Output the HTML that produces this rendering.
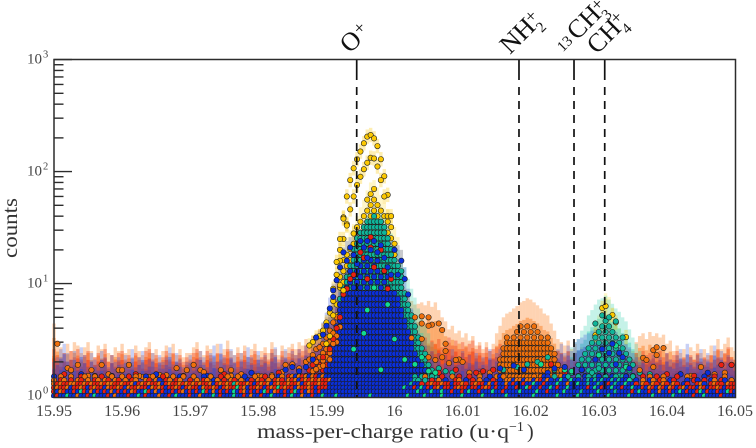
<!DOCTYPE html>
<html lang="en">
<head>
<meta charset="utf-8">
<title>Mass spectrum counts chart</title>
<style>
html,body{margin:0;padding:0;background:#fff;width:756px;height:448px;overflow:hidden}
svg{display:block}
text{font-family:"Liberation Serif",serif}
</style>
</head>
<body>
<svg id="chart" width="756" height="448" viewBox="0 0 756 448" xmlns="http://www.w3.org/2000/svg">
<defs><clipPath id="plot-clip"><rect x="50" y="59" width="686" height="339"/></clipPath></defs>
<rect x="0" y="0" width="756" height="448" fill="#fff"/>
<g id="bars" clip-path="url(#plot-clip)"></g>
<g id="ticks"></g>
<g id="dots" clip-path="url(#plot-clip)"></g>
<g id="refs"></g>
<rect x="54" y="59.5" width="681.5" height="338" fill="none" stroke="#2c2c2c" stroke-width="1.5"/>
<g id="xlabels" font-size="16" fill="#444" text-anchor="middle"></g>
<g id="ylabels" fill="#444"></g>
<text x="257" y="438" font-size="20" fill="#333" textLength="252" lengthAdjust="spacingAndGlyphs">mass-per-charge ratio (u·q</text>
<text x="509" y="431" font-size="14" fill="#333">−1</text>
<text x="527" y="438" font-size="20" fill="#333">)</text>
<text transform="translate(17,258) rotate(-90)" font-size="21" fill="#333" textLength="60" lengthAdjust="spacingAndGlyphs">counts</text>
<g transform="translate(350,54) rotate(-45)" fill="#111">
<text font-size="26">O</text><text x="20" y="-6" font-size="18">+</text>
</g>
<g transform="translate(510,55) rotate(-45)" fill="#111">
<text font-size="26" textLength="38" lengthAdjust="spacingAndGlyphs">NH</text><text x="38" y="7" font-size="15">2</text><text x="37" y="-7" font-size="18">+</text>
</g>
<g transform="translate(577,41) rotate(-45)" fill="#111">
<text x="-18" y="-2" font-size="15">13</text><text font-size="26" textLength="36" lengthAdjust="spacingAndGlyphs">CH</text><text x="36" y="7" font-size="15">3</text><text x="35" y="-6" font-size="18">+</text>
</g>
<g transform="translate(597,55) rotate(-45)" fill="#111">
<text font-size="26" textLength="36" lengthAdjust="spacingAndGlyphs">CH</text><text x="36" y="7" font-size="15">4</text><text x="35" y="-7" font-size="18">+</text>
</g>
</svg>
<script>
// ---- axis data ----
const xTicks = [15.95,15.96,15.97,15.98,15.99,16,16.01,16.02,16.03,16.04,16.05];
const xTickLabels = ["15.95","15.96","15.97","15.98","15.99","16","16.01","16.02","16.03","16.04","16.05"];
const yDecades = [1,10,100,1000];
const yDecadeExponents = ["0","1","2","3"];
const yMinorTicks = [2,3,4,5,6,7,8,9,20,30,40,50,60,70,80,90,200,300,400,500,600,700,800,900];
const speciesNames = ["O+","NH2+","13CH3+","CH4+"];
const speciesMz = [15.99445,16.01828,16.02636,16.03087];
const binStart = 15.95;
const binStep = 0.0005;

// ---- translucent error bar tops per mass bin (bin 0..200) ----
const orangeBars = [4.4,3.1,2.7,2.4,2.9,2.5,3.0,2.8,2.4,2.7,3.0,2.5,2.2,2.8,2.6,2.9,2.4,2.3,2.7,2.5,
2.9,2.4,2.6,2.2,2.8,2.5,2.3,2.7,3.0,2.4,2.6,2.2,2.5,2.8,2.4,2.9,2.3,2.6,2.2,2.4,
2.4,2.7,3.0,2.5,2.3,2.8,2.6,2.2,2.9,2.4,2.6,3.1,2.5,2.3,2.7,2.4,2.8,2.2,2.6,2.9,
2.3,2.5,2.7,2.4,3.0,2.6,2.3,2.8,2.5,2.7,2.9,2.6,3.0,2.8,3.2,3.0,3.4,3.6,3.9,4.4,
5,6,8,10,12,14,16,18,20,20,20,20,20,20,20,20,20,20,20,18,15,12,10,9,7.5,7,6.5,6.6,6.8,6.4,
7.0,6.2,6.8,5.8,5.0,4.6,3.9,4.2,3.6,3.8,3.3,3.6,3.1,3.4,2.8,3.0,2.6,3.0,2.5,2.9,
3.6,4.2,5.0,5.4,5.6,6.0,6.3,6.8,7.0,7.4,7.2,6.8,6.4,6.0,5.4,5.2,4.4,3.8,3.2,3.0,
2.8,3.1,2.6,2.9,2.5,2.7,2.4,2.8,2.6,2.9,2.5,2.7,2.4,2.8,2.5,2.6,2.3,2.7,2.9,2.6,
2.5,3.0,3.4,3.6,3.2,3.7,3.4,3.6,3.3,3.5,2.9,3.1,2.5,2.8,2.4,2.6,2.3,2.7,2.5,2.9,
2.4,2.6,2.3,2.8,2.5,3.2,2.6,2.9,3.3,2.7,2.5];
const redBars = [2.6,2.3,2.1,2.4,2.0,2.5,2.2,2.6,2.1,2.3,2.5,2.0,2.2,2.4,2.1,2.6,2.0,2.3,2.1,2.4,
2.5,2.1,2.3,2.0,2.4,2.2,2.0,2.5,2.6,2.1,2.3,2.0,2.2,2.5,2.1,2.4,2.0,2.3,2.0,2.2,
2.1,2.4,2.6,2.2,2.0,2.5,2.3,2.0,2.4,2.1,2.3,2.6,2.2,2.0,2.4,2.1,2.5,2.0,2.3,2.5,
2.1,2.2,2.4,2.1,2.6,2.3,2.1,2.5,2.2,2.4,2.6,2.3,2.6,2.5,2.8,2.7,3.0,3.2,3.4,3.8,
4,4.5,5,6,7,8,8,8,8,8,8,8,8,8,8,8,8,8,8,7,6,5,4.5,4,3.5,3.2,3,3.2,3.0,3.3,
2.8,3.1,2.9,3.2,2.7,3.0,3.3,2.8,3.1,2.6,3.0,2.7,2.9,3.1,2.6,2.8,2.4,2.7,2.5,2.6,
2.7,2.9,2.8,2.6,3.0,2.7,2.9,2.8,3.0,2.7,2.9,2.6,2.8,2.5,2.7,2.4,2.6,2.3,2.5,2.4,
2.2,2.5,2.1,2.4,2.0,2.2,2.1,2.3,2.4,2.2,2.3,2.1,2.4,2.2,2.3,2.2,2.1,2.3,2.4,2.2,
2.1,2.4,2.2,2.5,2.3,2.4,2.6,2.3,2.5,2.2,2.4,2.1,2.3,2.5,2.1,2.2,2.0,2.3,2.1,2.4,
2.0,2.2,2.1,2.3,2.1,2.6,2.2,2.4,2.7,2.2,2.1];
const blueBars = [2.0,2.2,2.6,2.9,2.4,2.1,2.5,1.9,2.7,2.3,1.8,2.4,2.1,1.9,2.5,2.2,1.8,2.3,2.0,2.2,
1.9,2.3,2.0,2.6,1.8,2.2,2.5,1.9,2.1,2.4,1.8,2.3,2.0,2.2,2.7,1.9,2.4,2.1,1.8,2.0,
2.3,1.9,2.1,2.5,2.2,1.8,2.4,2.8,2.0,2.9,2.2,1.9,2.6,2.3,1.8,2.4,2.0,2.7,2.2,1.9,
2.5,2.1,2.3,1.9,2.4,2.7,2.0,2.2,2.6,2.1,2.5,2.3,2.6,2.2,2.8,2.4,3.0,3.4,3.8,4.5,
5.5,7.5,10,12,16,21,24,26,28,30,30,30,30,30,30,30,30,28,26,24,24,22,20,14,9,6,4.5,3.6,3,2.8,
2.2,2.5,2.0,2.4,1.9,2.3,2.1,2.6,1.9,2.2,2.5,2.0,2.3,1.9,2.4,2.0,2.2,1.9,2.6,2.1,
2.4,2.6,2.8,3.0,3.1,3.2,2.9,3.1,3.2,2.9,3.0,2.7,2.9,2.6,2.5,2.3,2.7,2.4,2.6,2.9,
2.4,2.8,2.5,3.0,3.2,3.3,3.5,3.6,3.8,3.9,4.0,3.8,4.1,3.9,3.6,3.7,3.4,3.2,2.9,2.7,
2.4,2.2,2.0,2.3,1.9,2.1,2.3,2.0,2.2,1.9,2.4,2.1,2.0,2.3,2.6,2.1,2.9,2.2,2.0,2.3,
2.6,2.1,2.4,2.0,2.8,2.2,2.5,2.0,2.3,2.1,1.9];
const yellowBarBins = [76,78,79,80,81,82,83,84,85,86,87,88,89,90,91,92,93,94,95,96,97,98,99,100,101,102,158,159,160,161,162,163,164,165,166];
const yellowBarTops = [2.8,3.2,3.6,4.2,5,7,10,18,22,26,30,34,40,48,56,68,80,84,72,62,52,46,38,32,26,20,3.5,4.5,5.2,6.5,8.2,7.6,6,5,4];
const tealBarBins = [84,85,86,87,88,89,90,91,92,93,94,95,96,97,98,99,100,101,102,103,104,105,106,107,108,109,110,111,112,152,153,154,155,156,157,158,159,160,161,162,163,164,165,166,167,168,169,170,171,172];
const tealBarTops = [10,12,15,18,22,26,30,35,40,44,46,45,42,38,33,28,24,20,17,14,11,9,7.5,6,5,4.2,3.6,3,2.6,2.7,3,3.2,3.8,4.2,5.2,5.8,6.5,7.2,7.4,7.8,7.2,6.6,6,5.6,5,4.6,3.9,3.3,2.9,2.5];

// ---- baseline dot rows: series code per bin (0 blue, 1 red, 2 orange, 3 green, 4 teal, 9 none) ----
const baselineLevels = [0.995,1.085,1.175,1.27,1.37,1.48];
const baselineRow0 = [0,1,0,0,3,0,0,2,0,0,1,0,3,0,0,0,1,0,2,0,
0,0,1,0,0,3,0,1,0,0,0,2,0,0,1,0,3,0,0,0,
1,0,0,2,0,0,0,3,0,1,0,0,0,3,0,0,1,0,2,0,
0,1,0,0,3,0,0,0,1,0,3,0,0,2,0,0,1,0,0,3,
0,0,0,3,0,0,0,0,0,0,0,0,0,3,0,0,0,0,0,0,
0,0,0,0,3,0,0,0,0,3,0,0,0,0,3,0,0,0,0,0,
3,0,0,0,0,0,3,0,0,0,0,0,0,3,0,0,0,0,0,0,
0,3,0,0,0,0,0,0,3,0,0,0,0,0,3,0,0,0,4,0,
0,0,0,3,0,0,0,0,0,3,0,0,0,0,0,0,3,0,0,0,
0,0,3,0,0,0,0,0,1,0,0,3,0,0,0,0,1,0,0,0,0];
const baselineRow1 = [1,0,2,1,0,0,1,0,3,1,0,2,0,1,0,1,0,2,0,1,
0,1,0,2,1,0,0,3,1,0,2,0,1,0,0,1,0,1,2,0,
1,0,1,0,3,1,0,2,0,1,0,1,0,3,0,1,2,0,1,0,
1,0,3,1,0,2,1,0,1,0,1,3,0,1,0,2,1,0,1,0,
0,0,0,0,0,0,0,0,0,0,0,0,0,0,0,0,0,0,0,0,
0,0,0,0,0,0,0,3,0,0,0,3,0,0,3,0,0,1,0,0,
1,0,3,0,0,1,0,0,0,3,0,0,1,0,0,0,0,3,0,0,
0,0,3,0,0,1,0,0,0,0,3,0,0,0,0,4,0,0,0,0,
3,0,0,0,0,4,0,0,0,0,1,0,3,0,0,1,0,0,2,0,
0,1,0,0,3,0,1,0,0,1,3,0,1,0,0,1,0,0,3,1,0];
const baselineRow2 = [1,2,1,1,2,0,1,1,2,1,0,1,2,1,1,0,2,1,1,2,
1,0,2,1,1,2,1,1,0,2,1,2,1,0,1,1,2,1,0,1,
2,1,1,0,2,1,1,2,1,0,1,2,1,1,3,1,2,0,1,1,
2,1,0,1,2,1,3,1,2,1,1,0,2,1,1,2,1,0,1,1,
1,0,0,0,0,0,0,0,0,0,0,0,0,0,0,0,0,0,0,0,
0,0,0,3,0,0,1,0,3,0,1,0,1,2,0,1,1,0,1,2,
1,1,0,1,1,0,1,2,1,0,1,0,0,1,0,0,1,0,0,3,
1,0,0,1,0,0,3,0,1,0,0,3,0,0,0,0,0,1,0,3,
0,1,0,0,3,0,0,1,0,0,3,0,0,1,0,2,1,0,2,1,
0,2,1,0,1,2,0,1,1,0,2,1,0,1,1,2,1,0,1,1,1];
const baselineRow3 = [2,1,2,1,1,2,2,1,1,2,1,2,1,1,2,1,2,2,1,1,
2,1,1,2,0,1,2,1,2,1,1,2,0,1,2,1,1,2,1,2,
1,2,1,2,1,1,2,0,1,2,1,2,1,4,2,1,1,2,1,0,
1,2,1,2,0,1,2,1,1,2,1,1,2,0,1,2,1,1,2,1,
1,0,0,0,0,0,0,0,0,0,0,0,0,0,0,0,0,0,0,0,
0,0,0,0,0,4,0,0,1,9,1,2,1,1,2,1,1,0,1,1,
2,1,9,1,2,1,1,0,2,0,1,0,0,2,0,1,0,0,1,0,
0,3,0,0,1,0,0,0,3,0,0,2,0,0,3,0,0,4,0,0,
4,0,0,1,0,4,0,0,3,0,0,1,9,2,1,9,2,1,9,2,
1,9,2,1,9,0,1,9,9,1,2,0,9,1,2,1,1,9,2,1,1];
const baselineRow4 = [2,9,1,2,9,1,9,2,1,9,2,9,1,2,9,2,1,9,2,1,
9,2,9,1,2,9,9,2,1,9,2,0,9,1,2,9,1,2,9,9,
1,9,2,9,1,2,9,0,2,9,1,9,2,1,9,2,9,0,1,9,
2,1,9,2,9,1,2,1,9,2,1,2,0,1,2,1,2,1,2,1,
1,2,0,0,0,0,0,0,0,0,0,0,0,0,0,0,0,0,0,0,
0,0,0,0,0,0,4,4,9,4,9,1,9,2,9,0,9,9,1,2,
9,0,9,1,9,2,9,0,9,1,9,0,9,2,2,0,2,2,0,2,
2,0,2,1,0,2,0,9,0,3,0,9,3,0,0,9,0,4,0,4,
0,4,0,0,4,0,4,0,0,3,9,0,9,2,9,0,2,9,1,2,
9,0,1,9,9,9,0,9,1,0,9,1,9,0,2,9,1,0,9,2,9];
const baselineRow5 = [0,9,2,9,9,2,9,9,1,2,9,9,2,9,1,9,9,2,9,9,
2,9,1,9,2,9,9,0,9,2,9,9,1,9,9,2,9,0,2,9,
9,2,9,9,0,9,2,9,9,1,9,2,9,9,2,9,0,9,9,2,
9,2,1,9,2,9,0,2,9,1,2,0,2,1,2,0,2,1,0,2,
0,0,0,0,0,0,0,0,0,0,0,0,0,0,0,0,0,0,0,0,
0,0,0,0,0,0,4,9,4,2,9,4,9,9,1,9,9,2,9,1,
9,9,1,9,9,2,9,9,0,9,2,0,2,9,2,2,2,2,2,2,
2,2,9,2,0,0,9,4,9,9,0,4,9,9,4,9,0,4,9,4,
0,9,4,9,0,4,9,4,0,9,4,9,9,1,9,2,9,1,9,2,
9,9,9,1,9,9,2,9,9,9,9,0,9,9,1,9,9,2,9,9,9];

// ---- stacked peak columns: count at top of each column ----
const stackLevels = [1.5,1.68,1.88,2.1,2.36,2.64,2.96,3.3,3.7,4.15,4.65,5.2,5.8,6.5,7.3,8.2,9.2,10.3,11.5,12.9,14.4,16.2,18.1,20.3,22.7,25.4,28.5,31.9,35.7,40,44.8,50.2,56.2,63,70];
const yellowColumnBins = [78,79,80,81,82,83,84,85,86,87,88,89,90,91,92,93,94,95,96,97,98,99,100];
const yellowColumnTops = [1.9,2.2,2.6,3,4,7,14,17,20,24,28,34,40,48,58,68,70,60,52,44,38,32,26];
const tealColumnBins = [84,85,86,87,88,89,90,91,92,93,94,95,96,97,98,99,100,101,102,103,104,105,106,107,108,109,110,111,112];
const tealColumnTops = [8,10,12,15,22,26,30,33,36,38,40,39,36,32,27,22,18,15,13,9,7,5.5,4.5,3.6,2.9,2.4,2,1.8,1.6];
const redColumnBins = [72,73,74,75,76,77,78,79,80,81,82];
const redColumnTops = [1.55,1.6,1.7,1.8,1.9,2.1,2.3,2.6,2.9,3.2,3.6];
const blueColumnBins = [80,81,82,83,84,85,86,87,88,89,90,91,92,93,94,95,96,97,98,99,100,101,102,103,104,105,106,107,108,109];
const blueColumnTops = [1.8,2.1,2.8,4.5,6.5,8,11,13,14,15,16,18,18,18,18,16,14,13,12,10,9,7.5,6,4.8,3.8,3.2,2.6,2.2,1.9,1.7];
const nh2ColumnBins = [131,132,133,134,135,136,137,138,139,140,141,142,143,144,145,146,147,148,149];
const nh2ColumnTops = [2.3,2.8,3.4,3.5,3.6,3.8,4.2,4.5,4.9,4.6,4.3,4.0,3.7,3.5,3.4,2.9,2.4,2.0,1.8];
const ch4ColumnBins = [154,155,156,157,158,159,160,161,162,163,164,165,166,167,168,169,170];
const ch4ColumnTops = [2.2,2.1,2.9,3,3.3,3.6,4,4.4,4.8,4.6,4.3,4,3.6,3.3,2.9,2.5,2.2];

// ---- individually read scatter points ----
const yellowBins = [92,93,94,91,95,90,89,88,87,86,85,93,94,92,96,91,95,90,97,96,89,88,98,97,87,86,98,99,161,162,159,165,168,164];
const yellowCounts = [205,212,198,179,169,151,129,107,84,60,39,133,131,120,129,105,111,90,91,84,76,60,62,60,46,34,40,40,6.05,6.3,3.47,4.5,3.33,5.25];
const yellowFlankBins = [76,75,77,78,80,79,80,81,82,82,83,84,84,85,86,85,84,83,84,88,85,82,81];
const yellowFlankCounts = [3.0,2.8,3.3,3.4,2.9,3.8,4.5,5.5,7,9,12,16,20,38,33,25,25,15.6,9.7,28,8.7,5.2,3.4];
const orangeBins = [4,7,5,11,14,19,20,22,26,28,31,36,39,41,43,44,49,52,52,68,70,67,72,
70,72,74,75,76,77,78,79,80,81,82,83,79,78,77,80,81,82,83,
106,108,110,108,111,113,114,110,115,115,105,108,114,112,110,119,118,120,116,
176,177,179,177,173,174,176,172,190,199,
1,10,16,25,33,46,55,60,64,122,125,128,184,187,194,197,0,
76,78,79,80,81,82,83,84,81,79,77];
const orangeCounts = [1.76,1.88,1.69,1.69,1.88,1.69,1.69,1.88,1.47,1.47,1.53,1.76,1.69,1.88,1.69,1.62,1.69,1.69,1.5,1.88,1.88,1.62,1.69,
1.9,1.75,2.0,2.1,2.3,2.6,2.2,2.9,3.3,3.8,4.5,5.0,2.4,2.7,2.0,2.6,3.0,3.6,3.0,
5.0,5.1,5.0,4.4,4.3,4.4,3.85,4.2,2.9,2.5,3.27,3.2,2.2,2.08,2.2,2.1,2.08,2,1.95,
2.55,2.7,2.66,2.3,2.17,2.08,1.8,1.69,1.8,1.88,
2.9,1.5,1.55,1.5,1.52,1.48,1.55,1.5,1.52,1.6,1.55,1.6,1.55,1.5,1.55,1.6,1.35,
1.65,1.8,2.05,2.2,2.4,2.9,3.4,4.1,2.1,1.85,1.72];
const redBins = [3,12,24,38,50,66,88,91,93,95,97,99,90,94,92,96,89,86,85,87,93,98,113,118,124,126,129,196,199,192,146,150,180,188,79,81,82,83,84];
const redCounts = [1.55,1.5,1.55,1.5,1.55,1.6,12,17,21,16,13,11,19,14,11,20,15,9,8,11,26,9,1.6,1.7,1.6,1.65,1.7,1.88,1.88,1.55,1.9,1.6,1.55,1.5,2.2,2.6,3.2,4.0,5.0];
const greenBins = [100,103,106,108,110,112,96,91,143,150,160,165,168,152,92,88,98,94];
const greenCounts = [3.2,2.1,1.9,2.2,1.65,1.6,1.7,3.6,1.9,1.7,2.3,2.8,1.8,1.65,5.8,2.6,6.5,9.2];
const tealBins = [132,136,139,142,145,147,150,152,155,158,160,172,175,113,115,117,161,159,163,165];
const tealCounts = [1.7,1.8,1.9,2.0,2.2,1.7,1.65,1.6,1.7,1.6,1.75,1.6,1.55,1.75,1.65,1.6,5.2,4.4,5.0,4.6];
const blueBins = [72,74,76,77,79,80,81,82,82,83,84,85,86,87,88,90,91,92,93,94,95,96,97,98,99,100,101,102,103,104,89,92,95,
8,17,30,45,58,131,135,138,147,150,159,163,165,167,169,155,145,184,192,70,68,161,164,166];
const blueCounts = [1.65,1.8,2.1,3.3,3.5,4.2,6,7.6,8.7,10.7,14,19,16,21,18,24,21,24,20,24,19,22,17,14,12,20,12,16,11,8,15,17,16,
1.55,1.5,1.55,1.5,1.6,1.75,1.85,1.7,1.75,1.8,2.1,2.4,1.9,2.2,1.75,1.7,1.6,1.55,1.6,1.8,1.7,2.6,2.9,2.4];

// ---- axis functions ----
const SVG_NS = "http://www.w3.org/2000/svg";
function xScale(mz){ return 54 + (mz - 15.95) / 0.1 * 681; }
function yScale(count){ return 395.6 - 112 * Math.log10(count); }
function binToMz(bin){ return binStart + bin * binStep; }
const palette = {blue:"#0a2fdc",red:"#ea2010",orange:"#f0700c",green:"#12dc90",teal:"#0fb59a",yellow:"#fcc800"};
const rowColors = [palette.blue,palette.red,palette.orange,palette.green,palette.teal];

const barsLayer = document.getElementById("bars");
const dotsLayer = document.getElementById("dots");
const ticksLayer = document.getElementById("ticks");
const refsLayer = document.getElementById("refs");
const xLabelsLayer = document.getElementById("xlabels");
const yLabelsLayer = document.getElementById("ylabels");

function addBar(bin, top, color, opacity){
  const el = document.createElementNS(SVG_NS,"rect");
  
  
  const cx = xScale(binToMz(bin));
  const yTop = yScale(top);
  el.setAttribute("x", (cx - 1.7).toFixed(2));
  el.setAttribute("y", yTop.toFixed(2));
  el.setAttribute("width", "3.4");
  el.setAttribute("height", (398 - yTop).toFixed(2));
  el.setAttribute("fill", color);
  el.setAttribute("opacity", opacity);
  barsLayer.appendChild(el);
}
function drawBarSeries(bins, tops, color, opacity){
  tops.forEach(function(top, i){
    const bin = bins ? bins[i] : i;
    addBar(bin, top, color, opacity);
    // deeper overlap lower down in the band
    addBar(bin, Math.pow(top, 0.8), color, opacity + 0.12);
    addBar(bin, Math.pow(top, 0.55), color, opacity + 0.2);
  });
}
function addDot(bin, count, color, radius){
  const el = document.createElementNS(SVG_NS,"circle");
  
  
  el.setAttribute("cx", xScale(binToMz(bin)).toFixed(2));
  el.setAttribute("cy", yScale(count).toFixed(2));
  el.setAttribute("r", radius);
  el.setAttribute("fill", color);
  el.setAttribute("stroke", "#1c1c1c");
  el.setAttribute("stroke-width", "0.6");
  dotsLayer.appendChild(el);
}
function addHalo(bin, count, color){
  const el = document.createElementNS(SVG_NS,"rect");
  
  
  const top = yScale(count * 1.16);
  const bottom = yScale(count / 1.16);
  el.setAttribute("x", (xScale(binToMz(bin)) - 1.7).toFixed(2));
  el.setAttribute("y", top.toFixed(2));
  el.setAttribute("width", "3.4");
  el.setAttribute("height", (bottom - top).toFixed(2));
  el.setAttribute("fill", color);
  el.setAttribute("opacity", "0.3");
  barsLayer.appendChild(el);
}
// levels above solidBelow are staggered so lower layers show through
function drawColumn(bins, tops, color, solidBelow){
  bins.forEach(function(bin, i){
    stackLevels.forEach(function(level, k){
      if (level > tops[i]) return;
      if (level > solidBelow && (k % 2) !== (bin % 2)) return;
      addDot(bin, level, color, 2.7);
    });
  });
}
function drawScatter(bins, counts, color, halo){
  bins.forEach(function(bin, i){
    if (halo) addHalo(bin, counts[i], color);
    addDot(bin, counts[i], color, 2.7);
  });
}
function drawBaselineRow(row, level){
  row.forEach(function(code, bin){
    if (code === 9) return;
    addDot(bin, level, rowColors[code], 2.7);
  });
}

// ---- translucent bars ----
drawBarSeries(yellowBarBins, yellowBarTops, "#ffe24a", 0.3);
drawBarSeries(null, orangeBars, "#fb7d1c", 0.34);
drawBarSeries(tealBarBins, tealBarTops, "#2fd0ae", 0.28);
drawBarSeries(null, redBars, "#f0300c", 0.34);
drawBarSeries(null, blueBars, "#2a48d8", 0.26);

// ---- y ticks ----
yDecades.forEach(function(value){
  const el = document.createElementNS(SVG_NS,"line");
  
  
  el.setAttribute("x1", 54);
  el.setAttribute("x2", 72);
  el.setAttribute("y1", yScale(value));
  el.setAttribute("y2", yScale(value));
  el.setAttribute("stroke", "#2c2c2c");
  el.setAttribute("stroke-width", "1.4");
  ticksLayer.appendChild(el);
});
yMinorTicks.forEach(function(value){
  const el = document.createElementNS(SVG_NS,"line");
  
  
  el.setAttribute("x1", 54);
  el.setAttribute("x2", 63.5);
  el.setAttribute("y1", yScale(value));
  el.setAttribute("y2", yScale(value));
  el.setAttribute("stroke", "#2c2c2c");
  el.setAttribute("stroke-width", "1.4");
  ticksLayer.appendChild(el);
});

// ---- dots, back to front ----
drawColumn(yellowColumnBins, yellowColumnTops, palette.yellow, 0);
drawColumn(tealColumnBins, tealColumnTops, palette.teal, 1000);
drawScatter(yellowBins, yellowCounts, palette.yellow, true);
drawColumn(nh2ColumnBins, nh2ColumnTops, palette.orange, 3);
drawColumn(ch4ColumnBins, ch4ColumnTops, palette.teal, 0);
drawColumn(redColumnBins, redColumnTops, palette.red, 0);
drawScatter(tealBins, tealCounts, palette.teal, false);
drawColumn(blueColumnBins, blueColumnTops, palette.blue, 9);
drawScatter(orangeBins, orangeCounts, palette.orange, false);
drawScatter(redBins, redCounts, palette.red, false);
drawScatter(yellowFlankBins, yellowFlankCounts, palette.yellow, true);
drawScatter(greenBins, greenCounts, palette.green, false);
drawScatter(blueBins, blueCounts, palette.blue, false);
drawBaselineRow(baselineRow5, baselineLevels[5]);
drawBaselineRow(baselineRow4, baselineLevels[4]);
drawBaselineRow(baselineRow3, baselineLevels[3]);
drawBaselineRow(baselineRow2, baselineLevels[2]);
drawBaselineRow(baselineRow1, baselineLevels[1]);
drawBaselineRow(baselineRow0, baselineLevels[0]);

// ---- reference lines ----
speciesMz.forEach(function(mz, i){
  const px = xScale(mz);
  const el = document.createElementNS(SVG_NS,"line");
  
  
  el.setAttribute("x1", px);
  el.setAttribute("x2", px);
  el.setAttribute("y1", 60);
  el.setAttribute("y2", 397);
  el.setAttribute("stroke", "#111");
  el.setAttribute("stroke-width", "1.7");
  el.setAttribute("stroke-dasharray", "20 7 8 6 8 6 8 6 8 6 8 6 8 6 8 6 8 6 8 6 8 6 8 6 8 6 8 6 8 6 8 6 8 6 8 6 8 6 8 6 8 6 8 6 8 6 8 6 8 6");
  refsLayer.appendChild(el);
});

// ---- tick labels ----
xTicks.forEach(function(tick, i){
  const el = document.createElementNS(SVG_NS,"text");
  
  
  el.setAttribute("x", xScale(tick));
  el.setAttribute("y", 416);
  el.textContent = xTickLabels[i];
  xLabelsLayer.appendChild(el);
});
yDecades.forEach(function(value, i){
  const base = document.createElementNS(SVG_NS,"text");
  
  
  base.setAttribute("x", 27);
  base.setAttribute("y", yScale(value) + 4);
  base.setAttribute("font-size", "15");
  base.textContent = "10";
  yLabelsLayer.appendChild(base);
  const exp = document.createElementNS(SVG_NS,"text");
  
  
  exp.setAttribute("x", 43);
  exp.setAttribute("y", yScale(value) - 2);
  exp.setAttribute("font-size", "10.5");
  exp.textContent = yDecadeExponents[i];
  yLabelsLayer.appendChild(exp);
});
</script>
</body>
</html>
